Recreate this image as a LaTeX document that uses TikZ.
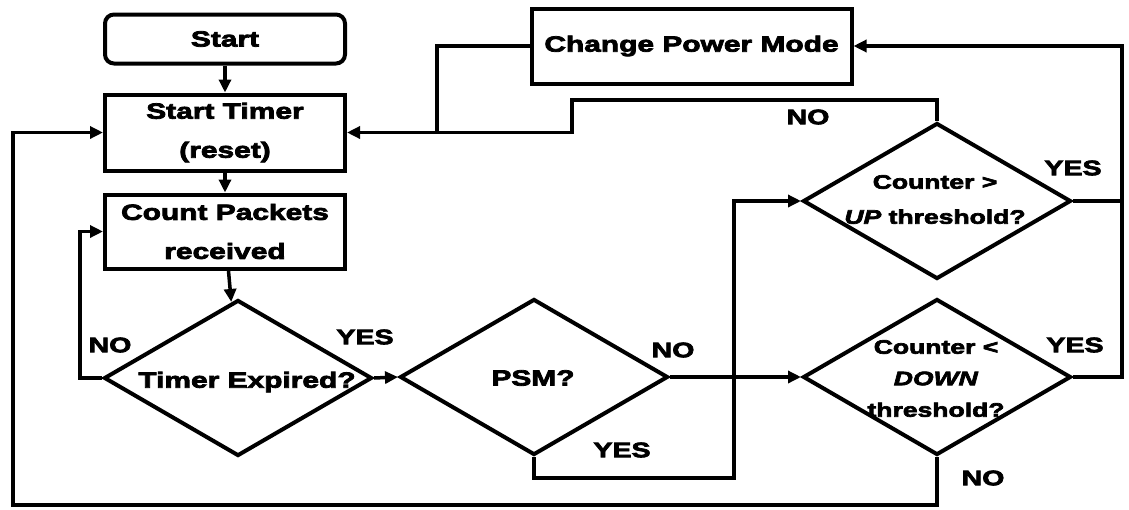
\documentclass[tikz,border=0pt]{standalone}
\usepackage{fontspec}
\setmainfont{Liberation Sans}[FakeStretch=1.36, FakeBold=3.5]
\usetikzlibrary{arrows.meta,shapes.geometric}
\begin{document}
\begin{tikzpicture}[x=1pt,y=-1pt,
  box/.style={draw, line width=4pt, minimum width=240pt, inner sep=0pt, align=center,
    font=\bfseries\fontsize{22}{39}\selectfont},
  dia/.style={draw, diamond, line width=4pt, minimum width=268pt, minimum height=156pt, inner sep=0pt},
  dtext/.style={align=center, inner sep=0pt, font=\bfseries\fontsize{19.5}{35}\selectfont},
  btext/.style={align=center, inner sep=0pt, font=\bfseries\fontsize{22}{26}\selectfont},
  lab/.style={inner sep=0pt, font=\bfseries\fontsize{21}{24}\selectfont},
  conn/.style={line width=3.5pt},
  arr/.style={conn, -{Triangle[length=13pt,width=12pt]}}
]
\useasboundingbox (0,0) rectangle (1129,509);

% process boxes
\node[box, rounded corners=9pt, minimum height=49pt] (start) at (225,39) {Start};
\node[box, minimum height=76pt] (timer) at (225,132.5) {Start Timer\\(reset)};
\node[box, minimum height=74pt] (count) at (225,231.5) {Count Packets\\received};
\node[box, minimum width=320pt, minimum height=75pt] (cpm) at (691.5,46) {Change Power Mode};

% decisions
\node[dia] (texp) at (238,378) {};
\node[btext] (texpt) at (247,382) {Timer Expired?};
\node[dia] (psm) at (534,377) {};
\node[btext] (psmt) at (533,378) {PSM?};
\node[dia] (cup) at (937,201) {};
\node[dtext] (cupt) at (935,199.5) {Counter >\\\textit{UP} threshold?};
\node[dia] (cdown) at (937,377) {};
\node[dtext, font=\bfseries\fontsize{19.5}{31.5}\selectfont] (cdownt) at (936,378.5) {Counter <\\\textit{DOWN}\\threshold?};

% labels
\node[lab] (lno1) at (110,345) {NO};
\node[lab] (lyes1) at (365,337) {YES};
\node[lab] (lno2) at (673,350) {NO};
\node[lab] (lyes2) at (622,450) {YES};
\node[lab] (lno3) at (808,117) {NO};
\node[lab] (lyes3) at (1073,168) {YES};
\node[lab] (lyes4) at (1075,345) {YES};
\node[lab] (lno4) at (983,478) {NO};

% waypoints
\coordinate (p1) at (80,378);
\coordinate (p2) at (80,231.5);
\coordinate (q1) at (534,478);
\coordinate (q2) at (734,478);
\coordinate (q3) at (734,201);
\coordinate (r1) at (937,100);
\coordinate (r2) at (572,100);
\coordinate (r3) at (572,132.5);
\coordinate (s1) at (437,46);
\coordinate (s2) at (437,132.5);
\coordinate (t1) at (1122,201);
\coordinate (t2) at (1122,46);
\coordinate (t3) at (1122,377);
\coordinate (u1) at (937,505);
\coordinate (u2) at (13,505);
\coordinate (u3) at (13,132.5);

% connectors
\draw[arr] (start) -- (timer);
\draw[arr] (timer) -- (count);
\draw[arr] (count) -- (texp);
\draw[arr] (texp.west) -- (p1) -- (p2) -- (count.west);
\draw[arr] (texp.east) -- (psm.west);
\draw[arr] (psm.east) -- (cdown.west);
\draw[arr] (psm.south) -- (q1) -- (q2) -- (q3) -- (cup.west);
\draw[arr] (cup.north) -- (r1) -- (r2) -- (r3) -- (timer.east);
\draw[conn] (cpm.west) -- (s1) -- (s2);
\draw[arr] (cup.east) -- (t1) -- (t2) -- (cpm.east);
\draw[conn] (cdown.east) -- (t3) -- (t1);
\draw[arr] (cdown.south) -- (u1) -- (u2) -- (u3) -- (timer.west);
\end{tikzpicture}
\end{document}
